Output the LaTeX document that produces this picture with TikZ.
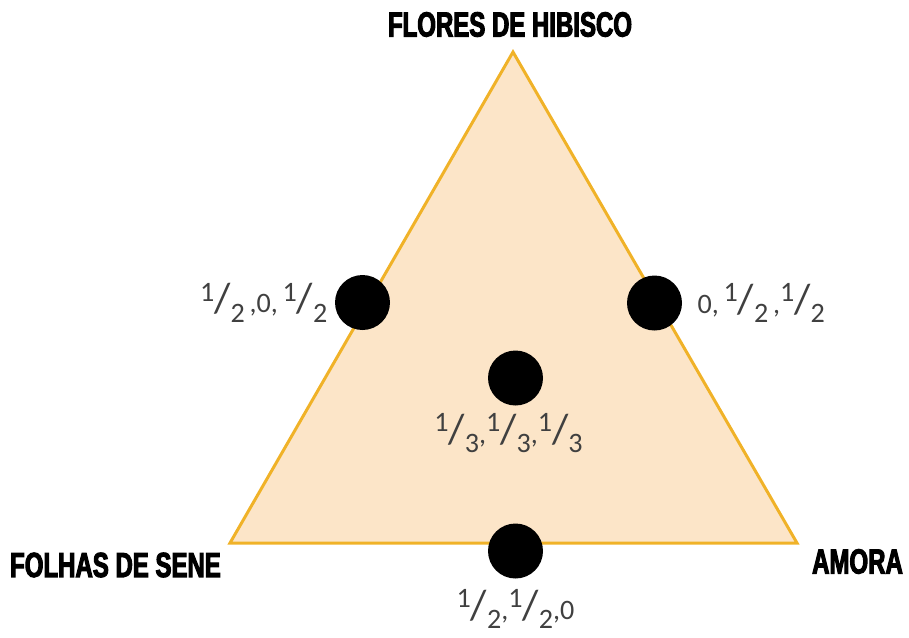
\documentclass[tikz,border=0pt]{standalone}
\usepackage{fontspec}
\usetikzlibrary{positioning}
\newfontfamily\vertexfont[FakeStretch=0.69, FakeBold=3]{Liberation Sans}
\newfontfamily\numfont{Carlito}
\definecolor{triFill}{RGB}{252,229,200}
\definecolor{triEdge}{RGB}{240,178,40}
\definecolor{numGray}{RGB}{64,64,64}
\newcommand{\fr}[2]{\raisebox{0.42em}{#1}{\fontsize{24}{24}\selectfont/}\raisebox{-0.33em}{#2}}
\tikzset{
    vertexlbl/.style={inner sep=0pt, font=\vertexfont\bfseries\fontsize{19.8}{20}\selectfont, text=black},
    dotmark/.style={circle, fill=black, inner sep=0pt, minimum size=1.1cm},
    coordlbl/.style={inner sep=0pt, font=\numfont\fontsize{16}{16}\selectfont, text=numGray},
    edge/.style={draw=triEdge, fill=triFill, line width=1.7pt, line join=miter}
}

\begin{document}
\begin{tikzpicture}[x=0.02cm, y=-0.02cm]
\useasboundingbox (0,0) rectangle (909,637);

%% corners of the simplex
\coordinate (hib)   at (513, 52);
\coordinate (sene)  at (230,543);
\coordinate (amora) at (797,543);

\draw[edge] (hib) -- (sene) -- (amora) -- cycle;

%% vertex names
\node[vertexlbl] (hibLbl)   at (510, 24.5) {FLORES DE HIBISCO};
\node[vertexlbl] (seneLbl)  at (115.5,565) {FOLHAS DE SENE};
\node[vertexlbl] (amoraLbl) at (857.5,561.5) {AMORA};

%% mixture points
\node[dotmark] (pHS) at (362.5,302.5) {};
\node[dotmark] (pHA) at (654.5,303) {};
\node[dotmark] (pC)  at (515.5,378) {};
\node[dotmark] (pSA) at (515.5,551) {};

%% proportions
\node[coordlbl, left=0.14cm of pHS]  (lHS) {\fr{1}{2}\,,0,\,\fr{1}{2}};
\node[coordlbl, right=0.3cm of pHA]  (lHA) {0,\,\fr{1}{2}\,,\fr{1}{2}};
\node[coordlbl, below=0.14cm of pC, xshift=-0.14cm] (lC) {\fr{1}{3},\fr{1}{3},\fr{1}{3}};
\node[coordlbl, below=0.2cm of pSA] (lSA) {\fr{1}{2},\fr{1}{2},0};

\end{tikzpicture}
\end{document}
